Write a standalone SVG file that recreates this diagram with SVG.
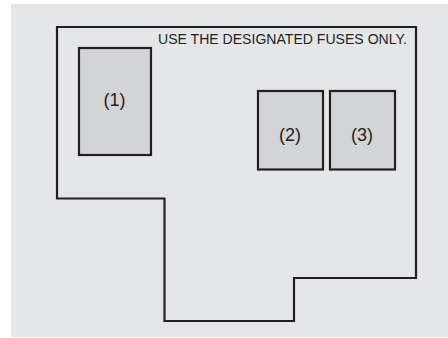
<svg xmlns="http://www.w3.org/2000/svg" width="448" height="338" viewBox="0 0 448 338">
<style>
.ol{fill:none;stroke:#231f20;stroke-width:2.2;stroke-linejoin:miter}
.fuse{fill:#d3d4d6;stroke:#231f20;stroke-width:2.2}
.lbl{font-family:"Liberation Sans",Arial,sans-serif;font-size:18px;fill:#231f20;text-anchor:middle}
.note{font-family:"Liberation Sans",Arial,sans-serif;font-size:14px;fill:#231f20}
</style>
<rect x="0" y="0" width="448" height="338" fill="#ffffff"/>
<rect x="11" y="4" width="437" height="333" fill="#e5e6e8"/>
<g id="outline">
<path class="ol" d="M57,27 H416 V278 H294 V321 H164.5 V198.5 H57 Z"/>
</g>
<g id="note"><text class="note" x="158" y="43.5" textLength="249" lengthAdjust="spacingAndGlyphs">USE THE DESIGNATED FUSES ONLY.</text></g>
<g id="fuse1"><rect class="fuse" x="79" y="48" width="72" height="107"/><text class="lbl" x="114.5" y="106">(1)</text></g>
<g id="fuse2"><rect class="fuse" x="258" y="91" width="65" height="78.5"/><text class="lbl" x="290" y="141">(2)</text></g>
<g id="fuse3"><rect class="fuse" x="330" y="91" width="65" height="78.5"/><text class="lbl" x="362" y="141">(3)</text></g>
</svg>
